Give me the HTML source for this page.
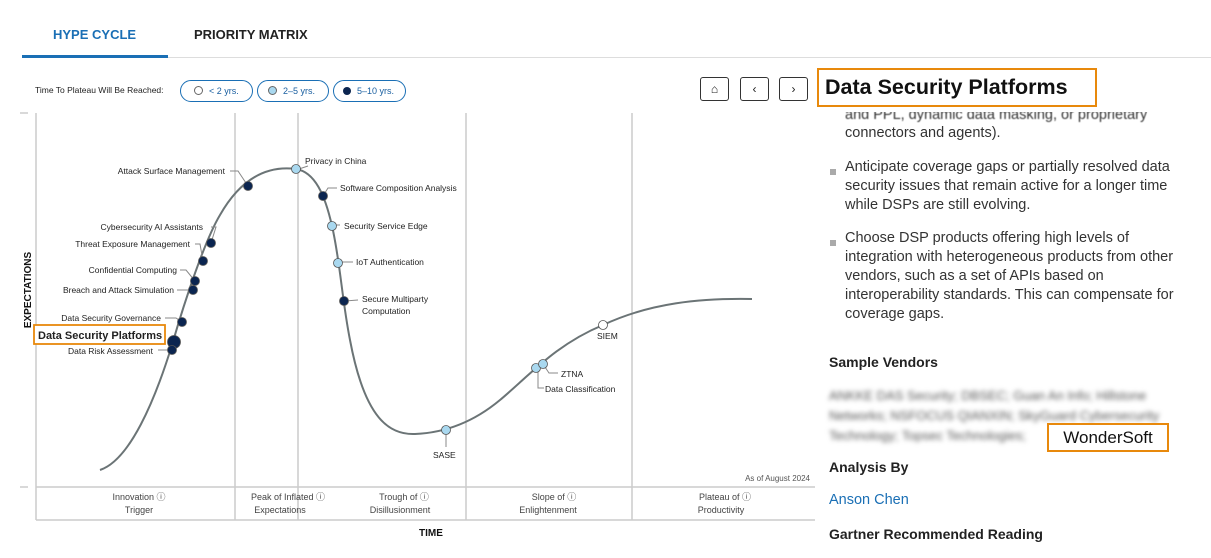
<!DOCTYPE html>
<html><head><meta charset="utf-8"><style>
body{margin:0;width:1211px;height:558px;background:#fff;overflow:hidden;position:relative;font-family:"Liberation Sans",sans-serif;}
.a{position:absolute;white-space:nowrap;}
.pill{position:absolute;top:80px;height:20px;border:1.5px solid #1a6fb5;border-radius:12px;font-size:9px;color:#1a5fa0;line-height:20px;box-sizing:content-box}
.btn{position:absolute;top:77px;width:27px;height:22px;border:1px solid #333;border-radius:3px;font-size:12px;text-align:center;line-height:22px;color:#222}
.rt{position:absolute;left:845px;font-size:14.5px;color:#333;line-height:19px;white-space:nowrap}
.sq{position:absolute;left:830px;width:6px;height:6px;background:#aaa}
</style></head><body>
<div class="a" style="left:53px;top:27px;font-size:13px;color:#1a6fb5;font-weight:bold">HYPE CYCLE</div>
<div class="a" style="left:194px;top:27px;font-size:13px;color:#222;font-weight:bold">PRIORITY MATRIX</div>
<div class="a" style="left:22px;top:57px;width:1189px;height:1px;background:#ddd"></div>
<div class="a" style="left:22px;top:55px;width:146px;height:3px;background:#1a6fb5"></div>
<div class="a" style="left:35px;top:85px;font-size:8.5px;color:#222">Time To Plateau Will Be Reached:</div>
<div class="pill" style="left:180px;width:71px"><span style="display:inline-block;width:7px;height:7px;border:1px solid #666;border-radius:50%;margin:0 6px 0 13px;vertical-align:-1px"></span>&lt; 2 yrs.</div>
<div class="pill" style="left:257px;width:70px"><span style="display:inline-block;width:7px;height:7px;border:1px solid #666;background:#a9d8ef;border-radius:50%;margin:0 6px 0 10px;vertical-align:-1px"></span>2–5 yrs.</div>
<div class="pill" style="left:333px;width:71px"><span style="display:inline-block;width:8px;height:8px;background:#0b2550;border-radius:50%;margin:0 6px 0 9px;vertical-align:-1px"></span>5–10 yrs.</div>
<div class="btn" style="left:700px">⌂</div>
<div class="btn" style="left:740px">‹</div>
<div class="btn" style="left:779px">›</div>
<div class="rt" style="top:106px;filter:blur(0.5px);clip-path:inset(6px 0 0 0)">and PPL, dynamic data masking, or proprietary</div>
<div class="a" style="left:817px;top:68px;width:270px;height:35px;border:2px solid #e8890c;background:#fff;font-size:21.5px;font-weight:bold;color:#111;line-height:35px;padding-left:6px;box-sizing:content-box;overflow:hidden">Data Security Platforms</div>

<svg class="a" style="left:0;top:0" width="815" height="558">
<g stroke="#ccc" stroke-width="1.5" fill="none">
<line x1="20" y1="113" x2="28" y2="113"/><line x1="20" y1="487" x2="28" y2="487"/>
<line x1="235" y1="113" x2="235" y2="520"/><line x1="298" y1="113" x2="298" y2="520"/>
<line x1="466" y1="113" x2="466" y2="520"/><line x1="632" y1="113" x2="632" y2="520"/>
<line x1="36" y1="113" x2="36" y2="520"/>
<line x1="36" y1="487" x2="815" y2="487"/><line x1="36" y1="520" x2="815" y2="520"/>
</g>
<path d="M100,470 C130,460 155,400 172,345 C185,300 205,240 220,215 C240,180 265,165 296,169 C315,172 325,195 332,226 C340,260 342,300 350,340 C365,420 390,435 415,434 C440,433 470,425 500,400 C530,375 555,345 603,325 C650,303 700,298 752,299" stroke="#6b7476" stroke-width="2" fill="none"/>
<g stroke="#888" stroke-width="1" fill="none">
<path d="M230,171 H238 L248,186"/><path d="M308,166 L299,169"/><path d="M337,188 H328 L323,196"/>
<path d="M340,225 H333"/><path d="M353,262 H339"/><path d="M358,300 L345,301"/>
<path d="M211,227 H216 L211,243"/><path d="M195,244 H200 L203,261"/><path d="M180,270 H186 L195,281"/><path d="M177,290 H193"/>
<path d="M165,318 H176 L182,322"/><path d="M158,350 H171"/><path d="M446,430 V447"/>
<path d="M558,373 H549 L543,364"/><path d="M544,388 H538 V370"/>
</g>
<g stroke="#555" stroke-width="0.8">
<circle cx="248" cy="186" r="4.5" fill="#0b2550"/><circle cx="296" cy="169" r="4.5" fill="#a9d8ef"/>
<circle cx="323" cy="196" r="4.5" fill="#0b2550"/><circle cx="332" cy="226" r="4.5" fill="#a9d8ef"/>
<circle cx="338" cy="263" r="4.5" fill="#a9d8ef"/><circle cx="344" cy="301" r="4.5" fill="#0b2550"/>
<circle cx="211" cy="243" r="4.5" fill="#0b2550"/><circle cx="203" cy="261" r="4.5" fill="#0b2550"/>
<circle cx="195" cy="281" r="4.5" fill="#0b2550"/><circle cx="193" cy="290" r="4.5" fill="#0b2550"/>
<circle cx="182" cy="322" r="4.5" fill="#0b2550"/><circle cx="174" cy="342" r="6.5" fill="#0b2550"/>
<circle cx="172" cy="350" r="4.5" fill="#0b2550"/><circle cx="446" cy="430" r="4.5" fill="#a9d8ef"/>
<circle cx="536" cy="368" r="4.5" fill="#a9d8ef"/><circle cx="543" cy="364" r="4.5" fill="#a9d8ef"/>
<circle cx="603" cy="325" r="4.5" fill="#fff"/>
</g>
<g font-family="Liberation Sans, sans-serif" font-size="8.5" fill="#222">
<text x="225" y="174" text-anchor="end">Attack Surface Management</text>
<text x="305" y="164">Privacy in China</text>
<text x="340" y="191">Software Composition Analysis</text>
<text x="344" y="229">Security Service Edge</text>
<text x="356" y="265">IoT Authentication</text>
<text x="362" y="302">Secure Multiparty</text><text x="362" y="314">Computation</text>
<text x="203" y="230" text-anchor="end">Cybersecurity AI Assistants</text>
<text x="190" y="247" text-anchor="end">Threat Exposure Management</text>
<text x="177" y="273" text-anchor="end">Confidential Computing</text>
<text x="174" y="293" text-anchor="end">Breach and Attack Simulation</text>
<text x="161" y="321" text-anchor="end">Data Security Governance</text>
<text x="153" y="354" text-anchor="end">Data Risk Assessment</text>
<text x="433" y="458">SASE</text>
<text x="561" y="377">ZTNA</text>
<text x="545" y="392">Data Classification</text>
<text x="597" y="339">SIEM</text>
<text x="810" y="481" text-anchor="end" fill="#555" font-size="8">As of August 2024</text>
<g text-anchor="middle" fill="#444" font-size="9">
<text x="139" y="500">Innovation ⓘ</text><text x="139" y="513">Trigger</text>
<text x="288" y="500">Peak of Inflated ⓘ</text><text x="280" y="513">Expectations</text>
<text x="404" y="500">Trough of ⓘ</text><text x="400" y="513">Disillusionment</text>
<text x="554" y="500">Slope of ⓘ</text><text x="548" y="513">Enlightenment</text>
<text x="725" y="500">Plateau of ⓘ</text><text x="721" y="513">Productivity</text>
</g>
<text x="431" y="536" text-anchor="middle" font-weight="bold" font-size="10" fill="#111">TIME</text>
<text transform="translate(31,290) rotate(-90)" text-anchor="middle" font-weight="bold" font-size="10" fill="#111">EXPECTATIONS</text>
</g>
<rect x="34" y="325" width="131" height="19" fill="#fff" stroke="#e8890c" stroke-width="1.8"/>
<text x="38" y="339" font-family="Liberation Sans, sans-serif" font-size="11" font-weight="bold" fill="#222">Data Security Platforms</text>
</svg>

<div class="rt" style="top:124px">connectors and agents).</div>
<div class="sq" style="top:169px"></div>
<div class="rt" style="top:158px">Anticipate coverage gaps or partially resolved data<br>security issues that remain active for a longer time<br>while DSPs are still evolving.</div>
<div class="sq" style="top:240px"></div>
<div class="rt" style="top:229px">Choose DSP products offering high levels of<br>integration with heterogeneous products from other<br>vendors, such as a set of APIs based on<br>interoperability standards. This can compensate for<br>coverage gaps.</div>
<div class="rt" style="left:829px;top:353px;font-weight:bold;font-size:14px;color:#222">Sample Vendors</div>
<div class="rt" style="left:829px;top:386px;filter:blur(2.5px);color:#555;line-height:20px;font-size:13px">ANKKE DAS Security; DBSEC; Guan An Info; Hillstone<br>Networks; NSFOCUS QIANXIN; SkyGuard Cybersecurity<br>Technology; Topsec Technologies;</div>
<div class="a" style="left:1047px;top:423px;width:118px;height:25px;border:2px solid #e8890c;background:#fff;font-size:17px;color:#111;line-height:25px;text-align:center">WonderSoft</div>
<div class="rt" style="left:829px;top:458px;font-weight:bold;font-size:14px;color:#222">Analysis By</div>
<div class="rt" style="left:829px;top:491px;color:#1a6fb5">Anson Chen</div>
<div class="rt" style="left:829px;top:525px;font-weight:bold;font-size:14px;color:#222">Gartner Recommended Reading</div>
</body></html>
